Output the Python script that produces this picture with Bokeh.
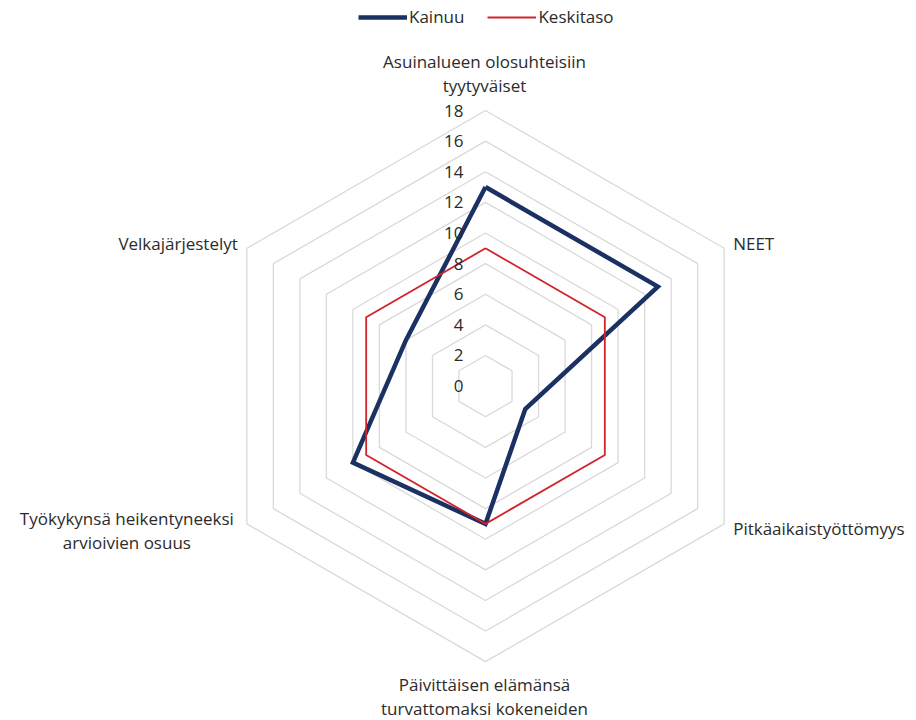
import numpy as np
from bokeh.plotting import figure
from bokeh.models import Range1d, Legend, LegendItem
from bokeh.embed import file_html
from bokeh.resources import INLINE
from bokeh.core.properties import value

# ---- data ----
categories = [
    "Asuinalueen olosuhteisiin\ntyytyväiset",
    "NEET",
    "Pitkäaikaistyöttömyys",
    "Päivittäisen elämänsä\nturvattomaksi kokeneiden",
    "Työkykynsä heikentyneeksi\narvioivien osuus",
    "Velkajärjestelyt",
]
kainuu = [13.0, 13.0, 3.0, 9.0, 10.0, 6.0]
keskitaso = [9.0, 9.0, 9.0, 9.0, 9.0, 9.0]
tick_values = [0, 2, 4, 6, 8, 10, 12, 14, 16, 18]
r_max = 18

# ---- layout ----
W, H = 916, 720
cx, cy = 485.0, 385.6      # centre in figure pixels (from top-left)
scale = 15.31              # pixels per unit
FONT = "Open Sans"
FS = "17px"
TXT = "#2b2b2b"
BLUE = "#1c3163"
RED = "#d2232a"
GRID = "#d9d9d9"

p = figure(width=W, height=H, output_backend="svg", toolbar_location=None,
           x_axis_type=None, y_axis_type=None, min_border=0,
           x_range=Range1d(-cx / scale, (W - cx) / scale),
           y_range=Range1d(-(H - cy) / scale, cy / scale))
p.outline_line_color = None
p.grid.visible = False
p.background_fill_color = "white"
p.border_fill_color = "white"

n = len(categories)
theta = np.pi / 2 - np.arange(n) * 2 * np.pi / n


def polar(vals):
    v = np.asarray(vals, dtype=float)
    xs = v * np.cos(theta)
    ys = v * np.sin(theta)
    return list(np.append(xs, xs[0])), list(np.append(ys, ys[0]))


# grid hexagons
for t in tick_values[1:]:
    gx, gy = polar([t] * n)
    p.line(gx, gy, line_color=GRID, line_width=1.3)

# series
kx, ky = polar(kainuu)
rk = p.line(kx, ky, line_color=BLUE, line_width=4.5, line_join="miter")
mx, my = polar(keskitaso)
rm = p.line(mx, my, line_color=RED, line_width=1.8, line_join="miter")

# tick labels along the top axis
p.text(x=[-22.0 / scale] * len(tick_values), y=[t + 0.0 for t in tick_values],
       text=[str(t) for t in tick_values], text_align="right",
       text_baseline="middle", text_font=value(FONT),
       text_font_size=FS, text_color=TXT)

# category labels: pixel offsets from the outer vertex (dx right, dy down)
label_offsets = [
    (-1, [-49, -25], "center"),
    (9, [-4.5], "left"),
    (9, [5], "left"),
    (-1, [23, 46.5], "center"),
    (-120, [-5, 18.3], "center"),
    (-9, [-4.5], "right"),
]
vx = r_max * np.cos(theta)
vy = r_max * np.sin(theta)
for i, cat in enumerate(categories):
    dx, dys, align = label_offsets[i]
    lines = cat.split("\n")
    xs = [vx[i] + dx / scale] * len(lines)
    ys = [vy[i] - d / scale for d in dys]
    p.text(x=xs, y=ys, text=lines, text_align=align, text_baseline="middle",
           text_font=value(FONT), text_font_size=FS, text_color=TXT)

legend = Legend(items=[LegendItem(label="Kainuu", renderers=[rk]),
                       LegendItem(label="Keskitaso", renderers=[rm])],
                orientation="horizontal", location=(358, H - 28),
                padding=0, margin=0, spacing=23, label_standoff=2,
                glyph_width=49, glyph_height=20,
                label_text_font=FONT, label_text_font_size=FS,
                label_text_color=TXT, border_line_alpha=0,
                background_fill_alpha=0)
p.add_layout(legend)

open("out.html", "w").write(file_html(p, INLINE))
